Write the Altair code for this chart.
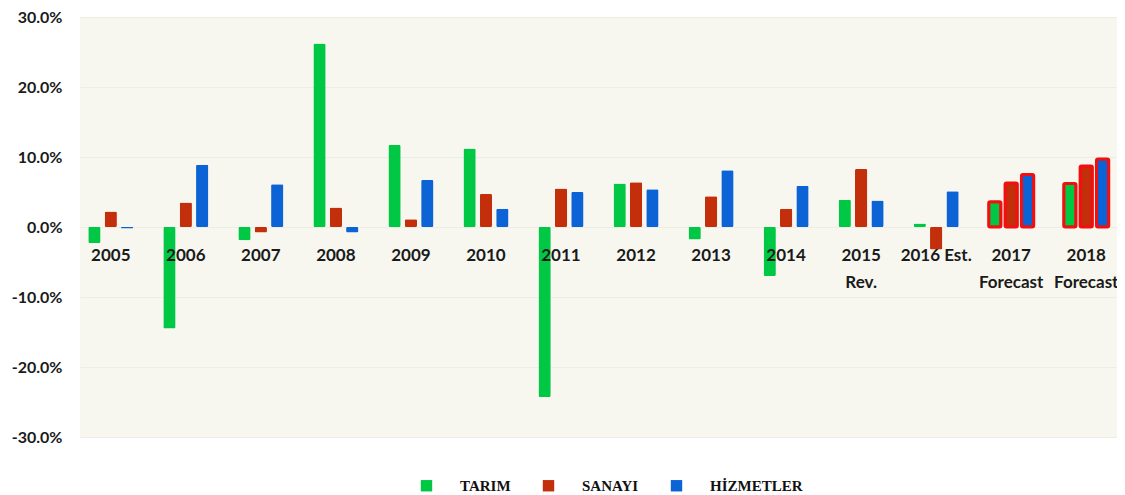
import altair as alt
import pandas as pd

years = ["2005", "2006", "2007", "2008", "2009", "2010", "2011", "2012",
         "2013", "2014", "2015", "2016", "2017", "2018"]
labels = ["2005", "2006", "2007", "2008", "2009", "2010", "2011", "2012",
          "2013", "2014", "2015\nRev.", "2016 Est.", "2017\nForecast", "2018\nForecast"]
tarim = [-2.3, -14.5, -1.9, 26.2, 11.7, 11.2, -24.3, 6.2, -1.8, -7.0, 3.9, 0.5, 3.6, 6.2]
sanayi = [2.2, 3.5, -0.8, 2.8, 1.1, 4.7, 5.5, 6.4, 4.4, 2.6, 8.3, -3.2, 6.3, 8.7]
hizmet = [-0.2, 8.9, 6.1, -0.8, 6.7, 2.6, 5.0, 5.4, 8.1, 5.9, 3.8, 5.1, 7.5, 9.7]
series = ["TARIM", "SANAYI", "HİZMETLER"]
colors = ["#00C845", "#C42F0B", "#0B63D6"]
y_ticks = [-30, -20, -10, 0, 10, 20, 30]

rows = []
for i, y in enumerate(years):
    for s, vals in zip(series, [tarim, sanayi, hizmet]):
        rows.append({"key": y, "series": s, "value": vals[i]})
df = pd.DataFrame(rows)
lab = pd.DataFrame({"key": years, "label": labels})

xscale = alt.Scale(paddingInner=0.4, paddingOuter=0.11)

bars = alt.Chart(df).mark_bar(stroke="#F01010", cornerRadius=1.5).encode(
    x=alt.X("key:N", sort=years, scale=xscale, axis=None),
    xOffset=alt.XOffset("series:N", sort=series, scale=alt.Scale(paddingInner=0.25)),
    y=alt.Y("value:Q", scale=alt.Scale(domain=[-30, 30]), title=None,
            axis=alt.Axis(values=y_ticks,
                          labelExpr="(datum.value < 0 ? '-' : '') + format(abs(datum.value), '.1f') + '%'",
                          labelFont="Lato", labelFontWeight="bold",
                          labelFontSize=16, labelColor="#1a1a1a",
                          labelPadding=18, ticks=False, domain=False,
                          gridColor="#EDEDE5")),
    color=alt.Color("series:N", sort=series,
                    scale=alt.Scale(domain=series, range=colors),
                    legend=alt.Legend(title=None, orient="none", direction="horizontal",
                                      legendX=339, legendY=461,
                                      symbolType="square", symbolSize=130,
                                      symbolStrokeWidth=0,
                                      labelFont="Liberation Serif", labelFontWeight="bold",
                                      labelFontSize=15, labelColor="#111111",
                                      labelOffset=26, columnPadding=30)),
    strokeWidth=alt.condition("datum.key == '2017' || datum.key == '2018'",
                              alt.value(3), alt.value(0)),
)

text = alt.Chart(lab).mark_text(font="Lato", fontWeight="bold", fontSize=17,
                                dy=21, lineBreak="\n", lineHeight=27,
                                color="#1a1a1a", baseline="top").encode(
    x=alt.X("key:N", sort=years, scale=xscale, axis=None),
    y=alt.Y(datum=0),
    text="label:N",
)

chart = alt.layer(bars, text).properties(
    width=1037, height=420,
    autosize=alt.AutoSizeParams(type="none"),
    padding={"left": 72, "top": 9, "right": 0, "bottom": 56},
    background="white",
).configure_view(fill="#F7F7F0", strokeWidth=0)

chart.save("out.html", embed_options={"renderer": "svg", "actions": False})
